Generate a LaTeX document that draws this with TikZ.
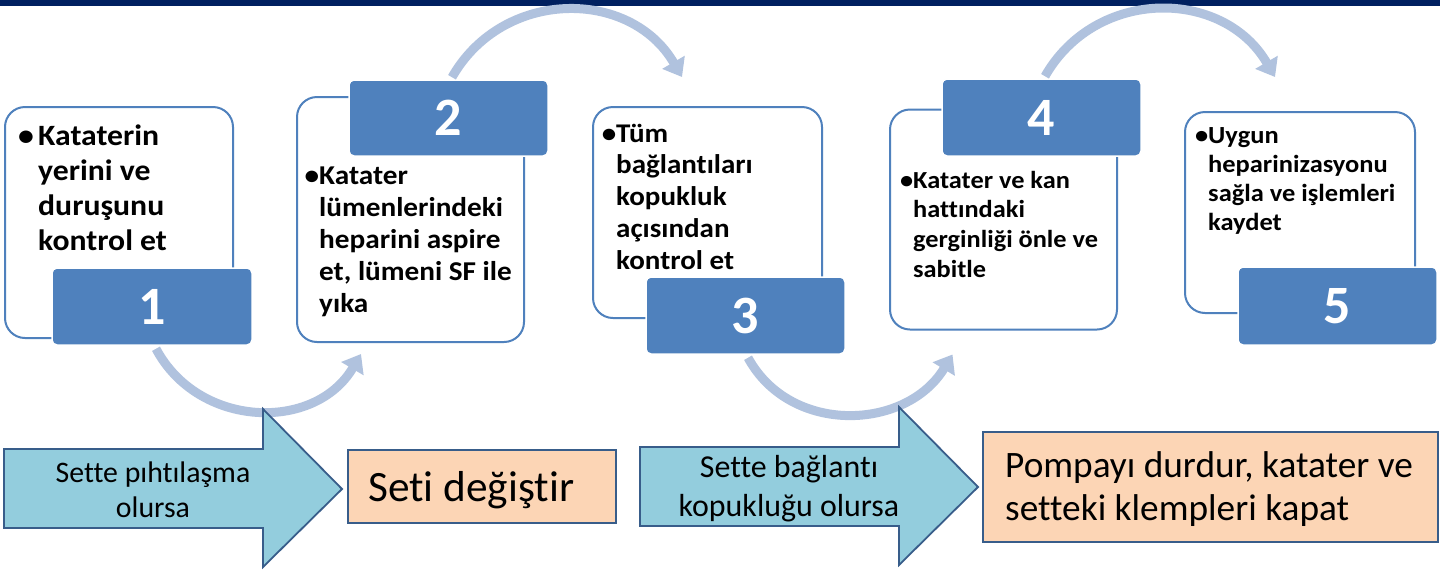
\documentclass[tikz,border=0pt]{standalone}
\usepackage{fontspec}
\setmainfont{Carlito}[Ligatures=CommonOff]
\newfontfamily\cardfont[FakeStretch=1.075,Ligatures=CommonOff]{Carlito}
\usetikzlibrary{arrows.meta,calc}
\definecolor{navy}{HTML}{002060}
\definecolor{accent}{HTML}{4F81BD}
\definecolor{arcblue}{HTML}{B0C2DE}
\definecolor{aqua}{HTML}{93CDDD}
\definecolor{peach}{HTML}{FCD5B5}
\definecolor{edge}{HTML}{385D8A}
\begin{document}
\begin{tikzpicture}[x=1pt,y=-1pt,
  card/.style={draw=accent, line width=2pt, rounded corners=20pt, fill=white, inner sep=0pt},
  tab/.style={fill=accent, draw=white, line width=1.5pt, rounded corners=5pt, text=white,
    font=\fontsize{54}{60}\selectfont\bfseries, inner sep=0pt},
  flow/.style={draw=arcblue, line width=9pt, -{Triangle[width=25pt,length=17pt]}},
  bigarrow/.style={fill=aqua, draw=edge, line width=1.8pt, line join=miter},
  peachbox/.style={fill=peach, draw=edge, line width=1.8pt, inner sep=0pt},
  txt/.style={inner sep=0pt, anchor=base west},
  ctxt/.style={inner sep=0pt, anchor=base}
]
\useasboundingbox (0,0) rectangle (1440,574);
\fill[white] (0,0) rectangle (1440,574);
\fill[navy] (0,0) rectangle (1440,6);

% cards
\node[card, minimum width=228pt, minimum height=231pt] (b1) at (119,222.5) {};
\node[card, minimum width=227pt, minimum height=245pt] (b2) at (410.5,219.5) {};
\node[card, minimum width=229pt, minimum height=211pt] (b3) at (707.5,212.5) {};
\node[card, minimum width=227pt, minimum height=220pt] (b4) at (1003.5,219.5) {};
\node[card, minimum width=230pt, minimum height=201pt] (b5) at (1300,212.5) {};

% tabs
\node[tab, minimum width=200pt, minimum height=77pt] (t1) at (152,306.5) {1};
\node[tab, minimum width=199pt, minimum height=76pt] (t2) at (448.5,118) {2};
\node[tab, minimum width=199pt, minimum height=77pt] (t3) at (745.5,315.5) {3};
\node[tab, minimum width=199pt, minimum height=77pt] (t4) at (1041.5,117.5) {4};
\node[tab, minimum width=199pt, minimum height=78pt] (t5) at (1337.5,306) {5};

% curved flow arrows
\coordinate (s1) at ($(t1.south)+(4,3)$);
\coordinate (e1) at ($(b2.south west)+(65,11)$);
\coordinate (s2) at ($(t2.north)+(3.5,-2)$);
\coordinate (e2) at ($(b3.north west)+(90,-29)$);
\coordinate (s3) at ($(t3.south)+(2.5,3)$);
\coordinate (e3) at ($(b4.south west)+(63.5,24)$);
\coordinate (s4) at ($(t4.north)+(3.5,-2)$);
\coordinate (e4) at ($(b5.north west)+(91,-34)$);
\draw[flow] (s1) .. controls +(42.6,80) and +(-46,78) .. (e1);
\draw[flow] (s2) .. controls +(50.9,-89.3) and +(-51.6,-88.9) .. (e2);
\draw[flow] (s3) .. controls +(42.6,78) and +(-46,76) .. (e3);
\draw[flow] (s4) .. controls +(50.9,-89.3) and +(-51.6,-88.9) .. (e4);

% card texts
\node[txt] (x1) at (38,145) {\parbox[t]{220pt}{\raggedright\cardfont\fontsize{29.5}{35}\selectfont\bfseries
  \leavevmode\llap{\makebox[20pt][l]{•}}Kataterin\\yerini ve\\duruşunu\\kontrol et}};
\node[txt] (x2) at (319,184) {\parbox[t]{240pt}{\raggedright\cardfont\fontsize{27.2}{32.2}\selectfont\bfseries
  \leavevmode\llap{•}Katater\\lümenlerindeki\\heparini aspire\\et, lümeni SF ile\\yıka}};
\node[txt] (x3) at (616,142) {\parbox[t]{240pt}{\raggedright\cardfont\fontsize{27}{31.8}\selectfont\bfseries
  \leavevmode\llap{•}Tüm\\bağlantıları\\kopukluk\\açısından\\kontrol et}};
\node[txt] (x4) at (913,188) {\parbox[t]{240pt}{\raggedright\cardfont\fontsize{24.5}{29.7}\selectfont\bfseries
  \leavevmode\llap{•}Katater ve kan\\hattındaki\\gerginliği önle ve\\sabitle}};
\node[txt] (x5) at (1208,143) {\parbox[t]{240pt}{\raggedright\cardfont\fontsize{24.6}{29}\selectfont\bfseries
  \leavevmode\llap{•}Uygun\\heparinizasyonu\\sağla ve işlemleri\\kaydet}};

% bottom row
\draw[bigarrow] (4,449) -- (263,449) -- (263,409) -- (342,489) -- (263,567) -- (263,528) -- (4,528) -- cycle;
\draw[bigarrow] (640,447) -- (899,447) -- (899,407) -- (978,487) -- (899,565) -- (899,526) -- (640,526) -- cycle;
\node[ctxt] (a1) at (153,482) {\parbox[t]{260pt}{\centering\fontsize{29.8}{35}\selectfont Sette pıhtılaşma\\olursa}};
\node[ctxt] (a2) at (789,477.3) {\parbox[t]{280pt}{\centering\fontsize{31.9}{39.4}\selectfont Sette bağlantı\\kopukluğu olursa}};

\node[peachbox, minimum width=268pt, minimum height=73pt] (p1) at (482,486.5) {};
\node[peachbox, minimum width=455pt, minimum height=110pt] (p2) at (1210.5,487) {};
\node[txt] (q1) at (368,501.7) {\fontsize{43.3}{50}\selectfont Seti değiştir};
\node[txt] (q2) at (1005,477) {\parbox[t]{440pt}{\raggedright\fontsize{37.3}{43}\selectfont Pompayı durdur, katater ve\\setteki klempleri kapat}};
\end{tikzpicture}
\end{document}
